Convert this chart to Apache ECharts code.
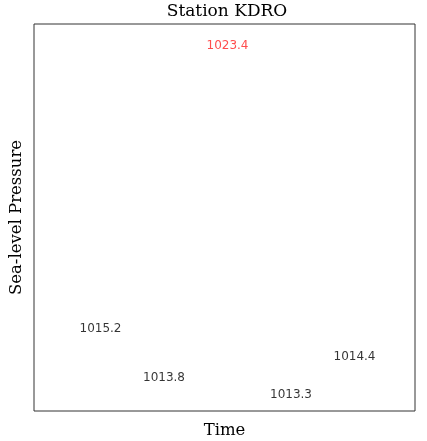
<!DOCTYPE html>
<html>
<head>
<meta charset="utf-8">
<script src="https://cdn.jsdelivr.net/npm/echarts@6/dist/echarts.min.js"></script>
<style>html,body{margin:0;padding:0;background:#fff;}#c{width:427px;height:441px;}</style>
</head>
<body>
<div id="c"></div>
<script>
var titleText = "Station KDRO";
var xName = "Time";
var yName = "Sea-level Pressure";
var timeIndex = [1, 2, 3, 4, 5];
var pressure = [1015.2, 1013.8, 1023.4, 1013.3, 1014.4];
var xRange = [0, 6];
var yRange = [1012.8, 1024.0];

var maxVal = Math.max.apply(null, pressure);
var data = timeIndex.map(function (t, i) {
  return {
    value: [t, pressure[i]],
    label: { color: pressure[i] === maxVal ? '#ff2020' : '#000' }
  };
});

var chart = echarts.init(document.getElementById('c'), null, { renderer: 'canvas' });
chart.setOption({
  animation: false,
  backgroundColor: '#fff',
  graphic: [{
    type: 'text', x: 227, y: 3,
    style: { text: titleText, font: '17px "DejaVu Serif"', fill: '#000', align: 'center', verticalAlign: 'top' }
  }],
  grid: { left: 34, right: 12, top: 24, bottom: 30, containLabel: false, outerBoundsMode: 'none',
          show: true, borderColor: '#333', borderWidth: 1, backgroundColor: '#fff' },
  xAxis: {
    type: 'value', min: xRange[0], max: xRange[1],
    name: xName, nameLocation: 'middle', nameGap: 11,
    nameTextStyle: { fontFamily: 'DejaVu Serif', fontSize: 16.5, color: '#000' },
    axisLine: { show: false }, axisTick: { show: false }, axisLabel: { show: false }, splitLine: { show: false }
  },
  yAxis: {
    type: 'value', min: yRange[0], max: yRange[1],
    name: yName, nameLocation: 'middle', nameGap: 9, nameRotate: 90,
    nameTextStyle: { fontFamily: 'DejaVu Serif', fontSize: 16.5, color: '#000' },
    axisLine: { show: false }, axisTick: { show: false }, axisLabel: { show: false }, splitLine: { show: false }
  },
  series: [{
    type: 'scatter',
    symbolSize: 1,
    itemStyle: { color: 'rgba(0,0,0,0)' },
    data: data,
    label: {
      show: true, position: 'inside', offset: [3, 1],
      fontFamily: 'DejaVu Sans', fontSize: 12,
      formatter: function (p) { return p.value[1].toFixed(1); }
    }
  }]
});
</script>
</body>
</html>
